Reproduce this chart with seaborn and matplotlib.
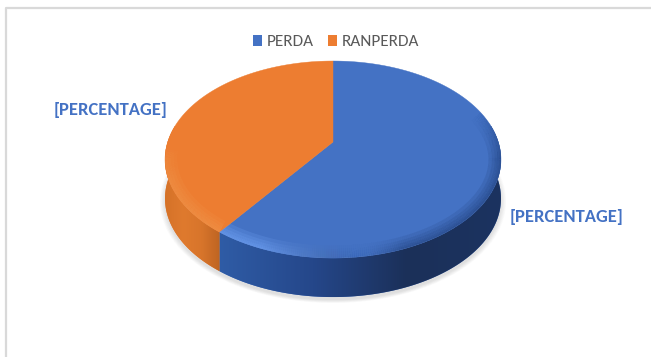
import numpy as np
import matplotlib
matplotlib.use("Agg")
import matplotlib.pyplot as plt
import seaborn as sns
from matplotlib.collections import LineCollection
from matplotlib.colors import LinearSegmentedColormap, to_rgb
from matplotlib.lines import Line2D
from matplotlib.patches import Patch, Polygon

# Chart content
categories = ["PERDA", "RANPERDA"]
shares = [60, 40]
slice_labels = ["[PERCENTAGE]", "[PERCENTAGE]"]
slice_colors = ["#4472C4", "#ED7D31"]
wall_stops = [["#2F5CA6", "#25478A", "#1B3059", "#1C3360"],
              ["#D57228", "#DF7A2E", "#D8752B", "#BE6422"]]

sns.set_theme(style="white")
plt.rcParams["font.family"] = ["Carlito", "Liberation Sans", "DejaVu Sans"]

fig = plt.figure(figsize=(6.51, 3.57), dpi=100, facecolor="white")
ax = fig.add_axes([0, 0, 1, 1])
palette = sns.color_palette(slice_colors)

# Tilted disc projected with a small perspective term
CX, APEX_Y, A, B, K, WALL = 333, 142, 95.4, 165.3, 0.178, 39


def rim(theta_deg):
    t = np.radians(theta_deg)
    s, c = np.sin(t), np.cos(t)
    return CX + B * s / (1 + K * c), APEX_Y - A * c / (1 + K * c)


# Soft drop shadow under the disc
full = np.linspace(0, 360, 361)
rx, ry = rim(full)
for grow in np.linspace(1.03, 1.0, 8):
    sx = 333 + (rx - 333) * grow
    sy = 160 + (ry - 160) * grow + WALL + 3
    ax.add_patch(Polygon(np.c_[sx, sy], closed=True, fc="#555555", ec="none",
                         alpha=0.025, zorder=1))

edges = np.r_[0, np.cumsum(shares)] / np.sum(shares) * 360

# Outer wall of each slice, only for the part of the rim facing the viewer
FRONT_START, FRONT_END = 80, 280
for i, color in enumerate(palette):
    lo, hi = max(edges[i], FRONT_START), min(edges[i + 1], FRONT_END)
    th = np.linspace(lo, hi, 200)
    x, y = rim(th)
    outline = np.r_[np.c_[x, y], np.c_[x, y + WALL][::-1]]
    poly = Polygon(outline, closed=True, fc=color, ec="none", zorder=2)
    ax.add_patch(poly)
    cmap = LinearSegmentedColormap.from_list("wall", wall_stops[i])
    gradient = np.linspace(0, 1, 256)[None, :]
    im = ax.imshow(gradient, cmap=cmap, aspect="auto", zorder=3,
                   extent=(x.min(), x.max(), y.max() + WALL, y.min()))
    im.set_clip_path(poly)

# Top faces of the slices
faces = []
for i, color in enumerate(palette):
    th = np.linspace(edges[i], edges[i + 1], 300)
    x, y = rim(th)
    face = Polygon(np.r_[[[CX, APEX_Y]], np.c_[x, y]], closed=True,
                   fc=color, ec=color, lw=0.3, zorder=4)
    ax.add_patch(face)
    faces.append(face)

# Bevel along the front rim, kept inside each top face:
# lit towards the lower left, dark towards the right
split = edges[1]
spans = [(70, split), (split, 278)]
for face, (start, stop) in zip(faces, spans):
    th = np.linspace(start, stop, 240)
    x, y = rim(th)
    pts = np.c_[x, y]
    segs = np.stack([pts[:-1], pts[1:]], axis=1)
    mid = (th[:-1] + th[1:]) / 2
    colors = np.zeros((len(mid), 4))
    for n, t in enumerate(mid):
        if t < split:
            w = np.clip((t - 160) / (split - 175), 0, 1)
            rgb = (1 - w) * np.array(to_rgb("#1E3A70")) + w * np.array(to_rgb("#6FA0F2"))
            fade = np.clip((t - 70) / 30, 0, 1) * (0.13 + 0.10 * w) * np.clip(abs(t - 172) / 14, 0.15, 1)
        else:
            rgb = np.array(to_rgb("#F59A50"))
            fade = 0.18 * np.clip((278 - t) / 30, 0, 1)
        colors[n] = [*rgb, fade]
    for width in (18, 13, 9, 5, 2.5):
        bevel = LineCollection(segs, colors=colors, linewidths=width,
                               capstyle="butt", zorder=5)
        ax.add_collection(bevel)
        bevel.set_clip_path(face)

# Slice labels
ax.text(567, 217, slice_labels[0], ha="center", va="center", fontsize=13.3,
        fontweight="bold", color="#4472C4", zorder=6)
ax.text(111, 110, slice_labels[1], ha="center", va="center", fontsize=13.3,
        fontweight="bold", color="#4472C4", zorder=6)

# Chart frame, open towards the right and bottom
ax.add_line(Line2D([6, 6, 651], [357, 8, 8], color="#D9D9D9", lw=1.6, zorder=0))

handles = [Patch(fc=c, ec="none") for c in palette]
ax.legend(handles, categories, ncol=2, loc="center", bbox_to_anchor=(336 / 651, 1 - 42 / 357),
          frameon=False, fontsize=12.3, labelcolor="#595959", handlelength=0.53,
          handleheight=0.65, handletextpad=0.24, columnspacing=0.88,
          borderpad=0, borderaxespad=0)

ax.set_xlim(0, 651)
ax.set_ylim(357, 0)
ax.axis("off")
fig.savefig("out.png", dpi=100, facecolor="white")
